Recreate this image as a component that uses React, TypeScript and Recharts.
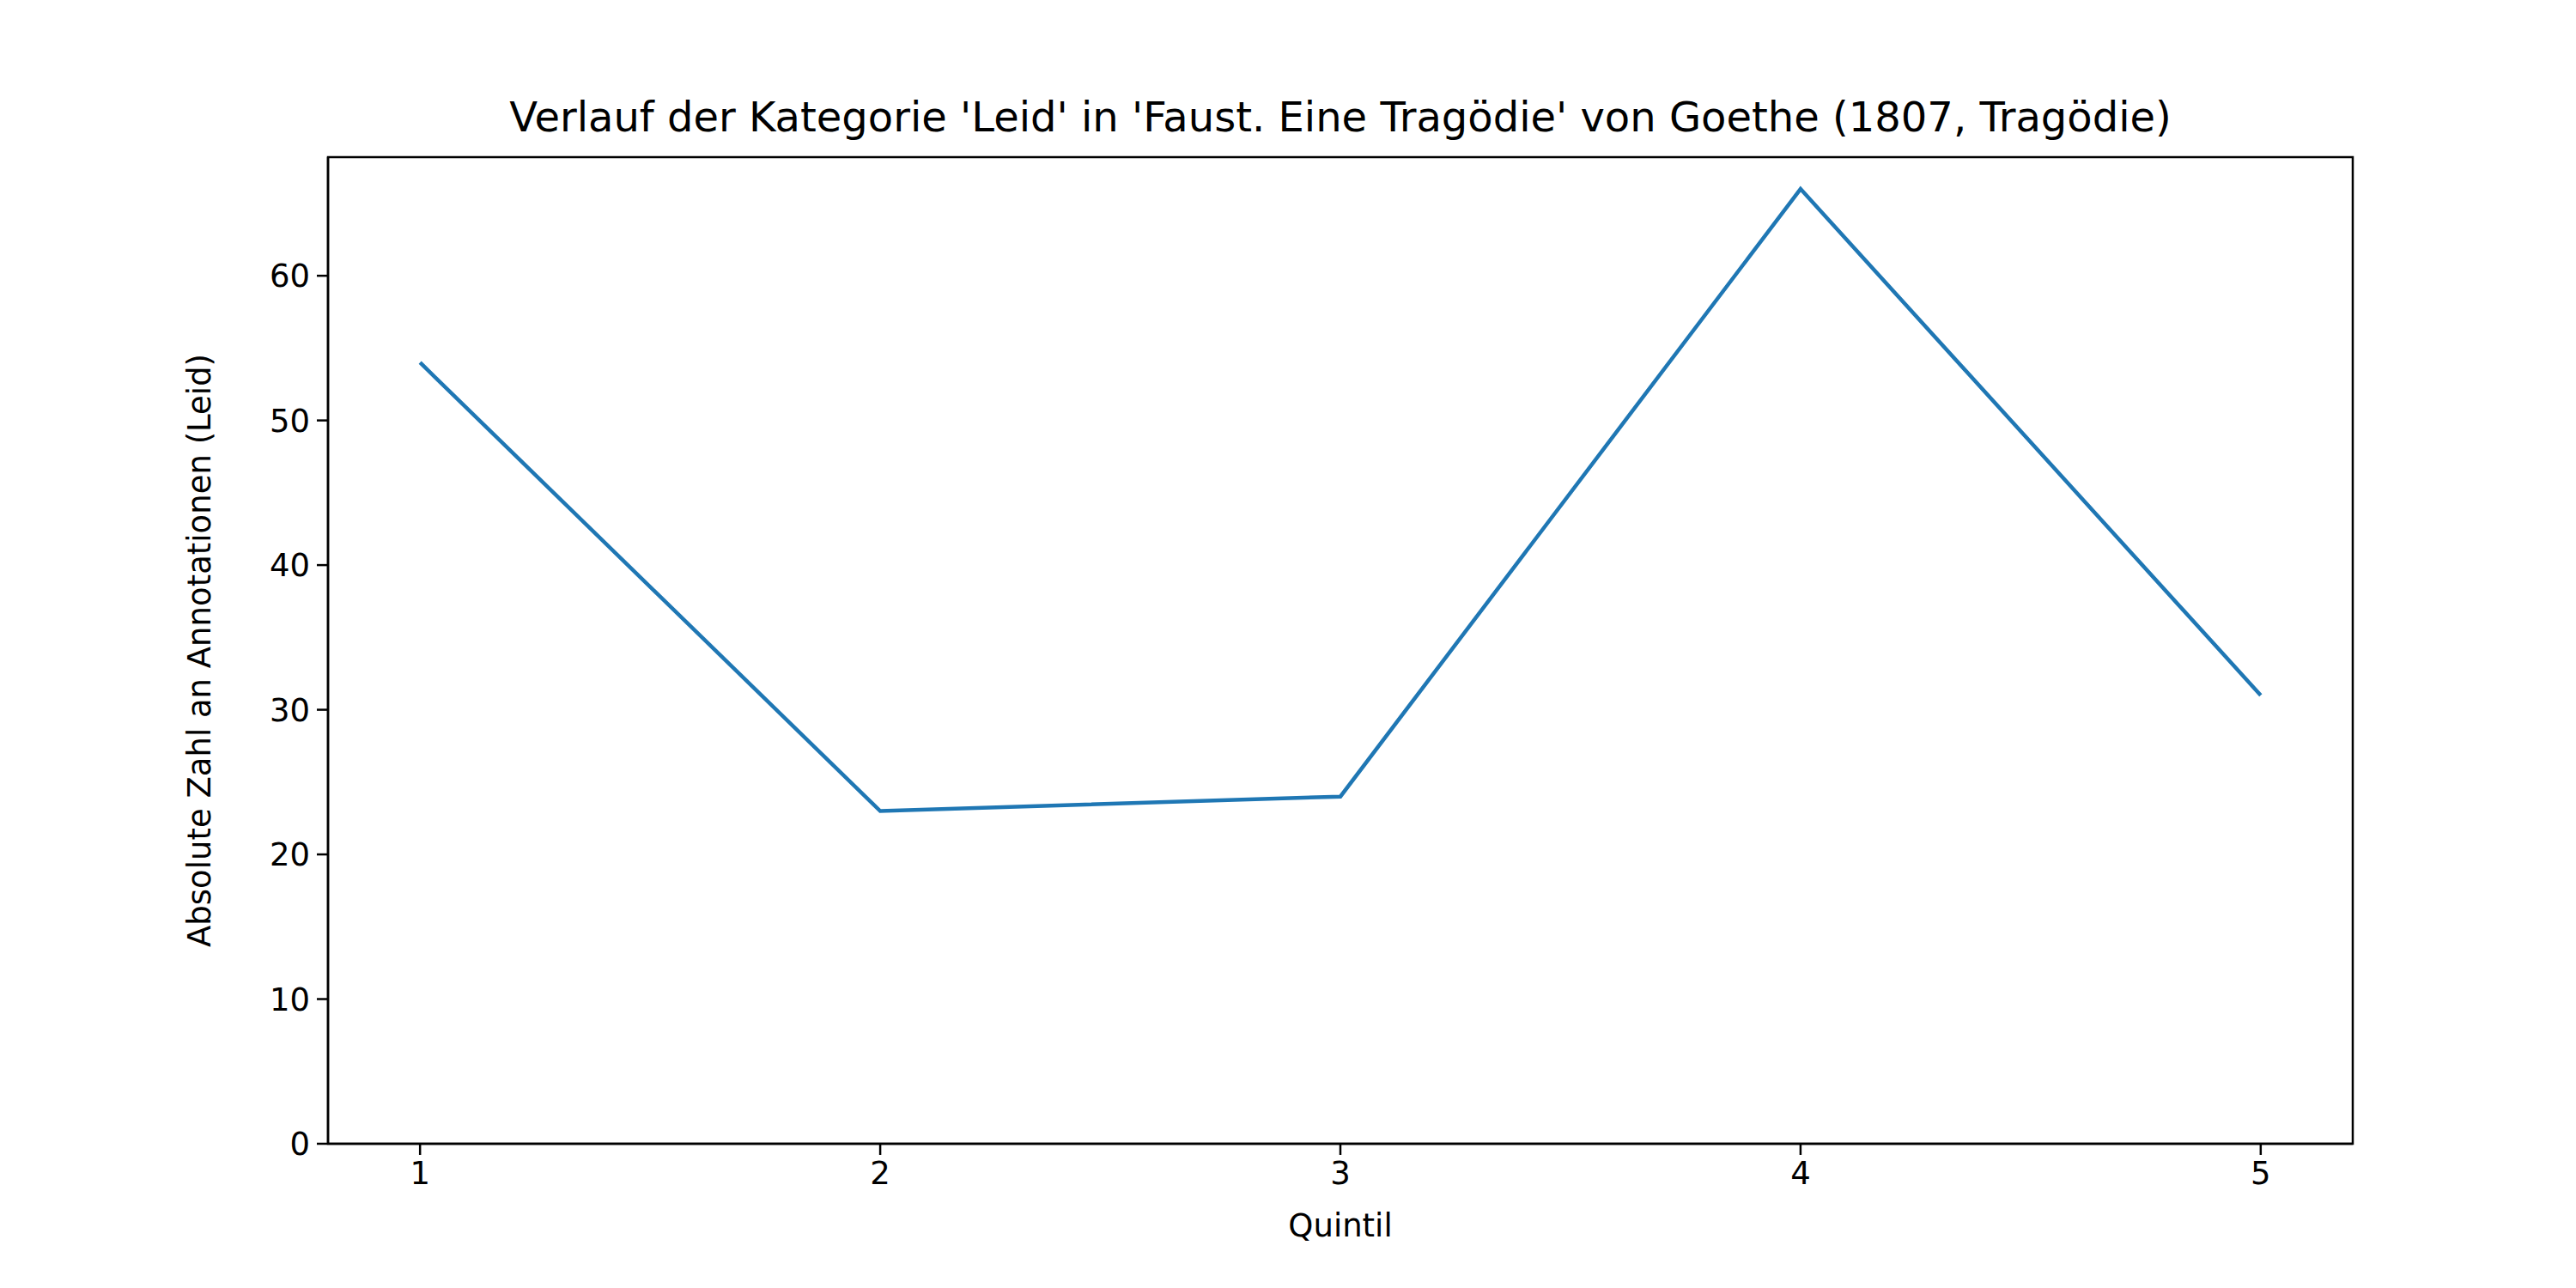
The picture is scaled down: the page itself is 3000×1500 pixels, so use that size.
import React from 'react';
import { LineChart, Line, XAxis, YAxis, ReferenceArea } from 'recharts';

const quintile = [1, 2, 3, 4, 5];
const leid = [54, 23, 24, 66, 31];
const yTicks = [0, 10, 20, 30, 40, 50, 60];

const data = quintile.map((q, i) => ({ q, leid: leid[i] }));

const font = 'DejaVu Sans, sans-serif';
const tick = { fill: '#000', fontSize: 37, fontFamily: font };

const App = () => (
  <div style={{ position: 'absolute', left: 0, top: 0, width: 3000, height: 1500, background: '#fff' }}>
    <div style={{ position: 'absolute', top: 108, width: 2800, left: 1561 - 1400, textAlign: 'center', fontFamily: font, fontSize: 48 }}>
      Verlauf der Kategorie 'Leid' in 'Faust. Eine Tragödie' von Goethe (1807, Tragödie)
    </div>
    <LineChart width={3000} height={1500} data={data} margin={{ top: 183, right: 260, left: 232, bottom: 68 }}>
      <XAxis dataKey="q" type="number" domain={[0.8, 5.2]} ticks={quintile} tick={tick} height={100}
        stroke="#000" strokeWidth={2.5} tickSize={13} tickMargin={8}
        label={{ value: 'Quintil', position: 'insideBottom', offset: -8, fill: '#000', fontSize: 37, fontFamily: font }} />
      <YAxis domain={[0, 68.2]} ticks={yTicks} tick={tick} width={150} stroke="#000" strokeWidth={2.5} tickSize={13} tickMargin={8}
        allowDataOverflow
        label={{ value: 'Absolute Zahl an Annotationen (Leid)', angle: -90, position: 'insideLeft', offset: 0, style: { textAnchor: 'middle' }, fill: '#000', fontSize: 37, fontFamily: font }} />
      <ReferenceArea x1={0.8} x2={5.2} y1={0} y2={68.2} fill="none" stroke="#000" strokeWidth={2.5} ifOverflow="visible" />
      <Line dataKey="leid" stroke="#1f77b4" strokeWidth={4.5} dot={false} isAnimationActive={false} />
    </LineChart>
  </div>
);

export default App;
